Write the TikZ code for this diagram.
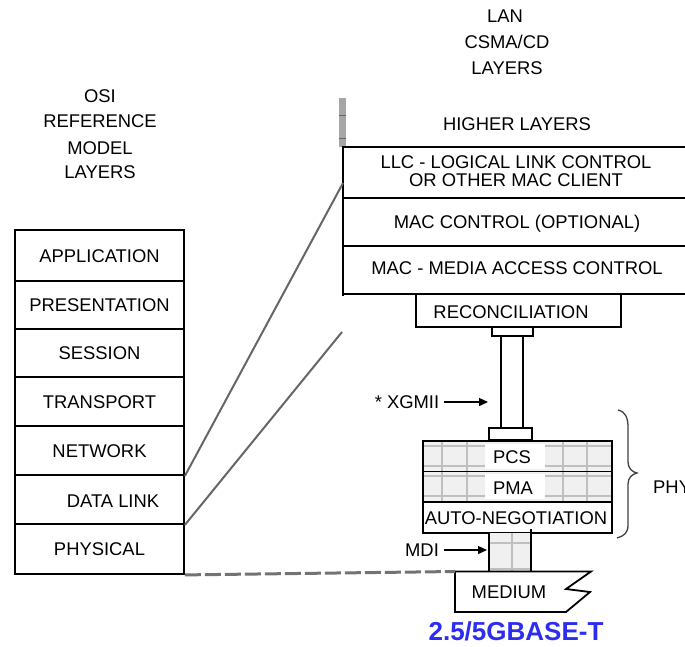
\documentclass[tikz,border=0pt]{standalone}
\usepackage{fontspec}
\setmainfont{Liberation Sans}
\usetikzlibrary{arrows.meta}
\definecolor{baseblue}{RGB}{45,45,240}
\begin{document}
\begin{tikzpicture}[x=1pt,y=-1pt,
  lbl/.style={inner sep=0pt, text height=13.2pt, text depth=0pt,
              font=\fontsize{18.4}{22}\selectfont},
  box/.style={draw, line width=1.8pt},
  osirow/.style={box, lbl, minimum width=169pt},
  slant/.style={draw=black!60, line width=2pt},
  gridln/.style={draw=black!25, line width=1.1pt},
  pale/.style={fill=black!6},
  arr/.style={line width=1.4pt, -{Triangle[length=9pt,width=8pt]}}]
\useasboundingbox (0,0) rectangle (685,646);
\clip (0,0) rectangle (685,646);

% ---- OSI reference model column ----
\node[lbl] (osi1) at (100,96)  {OSI};
\node[lbl] (osi2) at (100,121) {REFERENCE};
\node[lbl] (osi3) at (100,148) {MODEL};
\node[lbl] (osi4) at (100,172) {LAYERS};

\node[osirow, minimum height=51pt] (app)   at (99.5,255.5) {APPLICATION};
\node[osirow, minimum height=48pt] (pres)  at (99.5,305)   {PRESENTATION};
\node[osirow, minimum height=48pt] (sess)  at (99.5,353)   {SESSION};
\node[osirow, minimum height=49pt] (trans) at (99.5,401.5) {TRANSPORT};
\node[osirow, minimum height=49pt] (net)   at (99.5,450.5) {NETWORK};
\node[osirow, minimum height=49pt] (dl)    at (99.5,499.5) {};
\node[lbl] (dltxt) at (113,501) {DATA LINK};
\node[osirow, minimum height=50pt] (phy)   at (99.5,549)   {PHYSICAL};

% ---- LAN CSMA/CD column ----
\node[lbl] (lan1) at (505,16) {LAN};
\node[lbl] (lan2) at (507,42) {CSMA/CD};
\node[lbl] (lan3) at (507,68) {LAYERS};

\fill[black!35] (338.5,98) rectangle (345.5,147);
\draw[black!60, line width=1pt] (338.5,115) -- (345.5,115) (338.5,138) -- (345.5,138);
\node[lbl] (higher) at (517,124) {HIGHER LAYERS};

\draw[box] (700,147) -- (343,147) -- (343,296);
\draw[box] (343,198) -- (700,198);
\draw[box] (343,246) -- (700,246);
\draw[box] (343,294) -- (700,294);
\node[lbl] (llc1) at (516,162) {LLC - LOGICAL LINK CONTROL};
\node[lbl] (llc2) at (516,180) {OR OTHER MAC CLIENT};
\node[lbl] (macctl) at (517,222) {MAC CONTROL (OPTIONAL)};
\node[lbl] (mac) at (517,268) {MAC - MEDIA ACCESS CONTROL};

% reconciliation sublayer and the XGMII
\node[box, minimum width=205pt, minimum height=33pt, inner sep=0pt] (rec) at (518.5,310.5) {};
\node[lbl] (rectxt) at (511,312) {RECONCILIATION};
\draw[box] (492,327) rectangle (533,336);
\draw[box] (501,336) -- (501,428) (523,336) -- (523,428);
\draw[box] (489,428) rectangle (532,440);

\node[lbl] (xgmii) at (407,402) {* XGMII};
\coordinate (xgmiitip) at (488,402);
\draw[arr] ([xshift=5pt]xgmii.east) -- (xgmiitip);

% PCS / PMA / auto-negotiation block
\fill[pale] (423,441) rectangle (612,502);
\draw[gridln] (442,441) -- (442,502) (467,441) -- (467,502)
              (563,441) -- (563,502) (587,441) -- (587,502)
              (423,446) -- (612,446) (423,466) -- (612,466)
              (423,476) -- (612,476) (423,496) -- (612,496);
\fill[white] (485,444) rectangle (545,469);
\fill[white] (485,474) rectangle (545,499);
\draw[box] (423,441) rectangle (612,533);
\draw[box] (423,471.5) -- (612,471.5) (423,502) -- (612,502);
\node[lbl] (pcs) at (512,457) {PCS};
\node[lbl] (pma) at (513,488) {PMA};
\node[lbl] (an)  at (516,518) {AUTO-NEGOTIATION};

% MDI stub
\fill[pale] (489,533) rectangle (531,571);
\draw[gridln] (512,533) -- (512,571) (489,543) -- (531,543) (489,569) -- (531,569);
\draw[box] (489,533) -- (489,572) (531,529) -- (531,572);
\node[lbl] (mdi) at (422,550) {MDI};
\coordinate (mditip) at (487,550);
\draw[arr] ([xshift=5pt]mdi.east) -- (mditip);

% medium
\coordinate (medtl) at (455,571.5);
\draw[box, line join=miter] (medtl) -- (591,571.5) -- (566,589) -- (590,592)
      -- (566,612) -- (455,612) -- cycle;
\node[lbl] (medium) at (509,592) {MEDIUM};
\draw[black!55, line width=3pt, dash pattern=on 16pt off 4pt] (phy.south east) -- (medtl);

\node[inner sep=0pt, text height=18.6pt, text depth=0pt, text=baseblue,
      font=\fontsize{26}{30}\selectfont\bfseries] (std) at (516,631) {2.5/5GBASE-T};

% PHY brace
\draw[black!75, line width=1.3pt] (618,410) .. controls (626,412) and (628,418) .. (628,428)
   -- (628,462) .. controls (628,468) and (632,472) .. (637,473)
   .. controls (632,474) and (628,478) .. (628,484)
   -- (628,525) .. controls (628,533) and (624,536) .. (617,538);
\node[lbl, anchor=west] (phylbl) at (653,487) {PHY};

% mapping between the two columns
\coordinate (llcpt) at (343,183);
\coordinate (recpt) at (342,332);
\draw[slant] (net.south east) -- (llcpt);
\draw[slant] (dl.south east) -- (recpt);
\end{tikzpicture}
\end{document}
